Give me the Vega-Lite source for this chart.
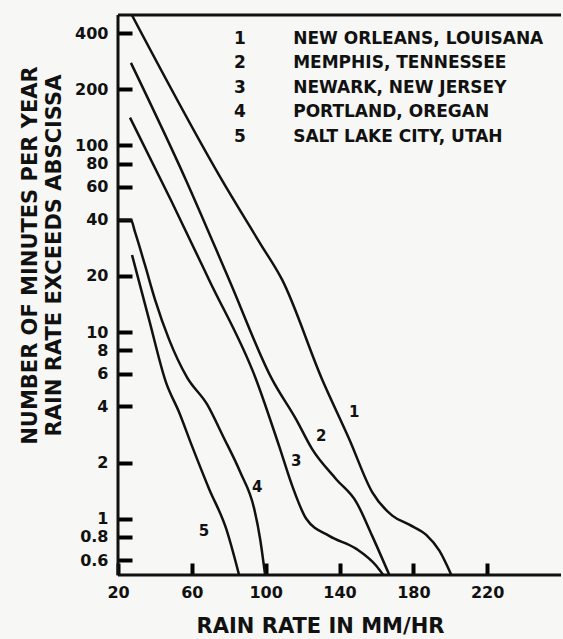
{
  "$schema": "https://vega.github.io/schema/vega-lite/v6.json",
  "width": 443,
  "height": 560,
  "autosize": "none",
  "padding": {"left": 118, "top": 15, "right": 2, "bottom": 64},
  "background": "#f7f7f5",
  "config": {"view": {"stroke": null}, "font": "DejaVu Sans"},
  "datasets": {
    "curves": [
      {"id": "1", "rate": 27.5, "minutes": 500},
      {"id": "1", "rate": 76.4, "minutes": 65},
      {"id": "1", "rate": 96.9, "minutes": 30},
      {"id": "1", "rate": 108.9, "minutes": 19.1},
      {"id": "1", "rate": 130.6, "minutes": 5.58},
      {"id": "1", "rate": 145.3, "minutes": 2.67},
      {"id": "1", "rate": 157.7, "minutes": 1.39},
      {"id": "1", "rate": 168.6, "minutes": 1.04},
      {"id": "1", "rate": 177.8, "minutes": 0.93},
      {"id": "1", "rate": 187.0, "minutes": 0.82},
      {"id": "1", "rate": 194.1, "minutes": 0.675},
      {"id": "1", "rate": 200.6, "minutes": 0.5},
      {"id": "2", "rate": 27.0, "minutes": 277},
      {"id": "2", "rate": 56.9, "minutes": 65},
      {"id": "2", "rate": 80.2, "minutes": 19.1},
      {"id": "2", "rate": 103.5, "minutes": 5.58},
      {"id": "2", "rate": 116.5, "minutes": 3.41},
      {"id": "2", "rate": 125.2, "minutes": 2.36},
      {"id": "2", "rate": 138.2, "minutes": 1.63},
      {"id": "2", "rate": 149.1, "minutes": 1.23},
      {"id": "2", "rate": 157.7, "minutes": 0.81},
      {"id": "2", "rate": 167.0, "minutes": 0.5},
      {"id": "3", "rate": 26.5, "minutes": 141},
      {"id": "3", "rate": 48.7, "minutes": 50.9},
      {"id": "3", "rate": 69.3, "minutes": 19.1},
      {"id": "3", "rate": 94.8, "minutes": 5.58},
      {"id": "3", "rate": 107.3, "minutes": 2.45},
      {"id": "3", "rate": 114.4, "minutes": 1.5},
      {"id": "3", "rate": 122.0, "minutes": 1.0},
      {"id": "3", "rate": 134.4, "minutes": 0.81},
      {"id": "3", "rate": 149.1, "minutes": 0.69},
      {"id": "3", "rate": 159.9, "minutes": 0.56},
      {"id": "3", "rate": 163.7, "minutes": 0.5},
      {"id": "4", "rate": 20, "minutes": 40},
      {"id": "4", "rate": 27.0, "minutes": 40},
      {"id": "4", "rate": 29.2, "minutes": 34.4},
      {"id": "4", "rate": 34.6, "minutes": 22.9},
      {"id": "4", "rate": 40.1, "minutes": 14.9},
      {"id": "4", "rate": 47.7, "minutes": 9.12},
      {"id": "4", "rate": 57.4, "minutes": 5.72},
      {"id": "4", "rate": 68.3, "minutes": 4.1},
      {"id": "4", "rate": 76.9, "minutes": 2.77},
      {"id": "4", "rate": 86.2, "minutes": 1.78},
      {"id": "4", "rate": 93.8, "minutes": 1.13},
      {"id": "4", "rate": 97.0, "minutes": 0.78},
      {"id": "4", "rate": 99.7, "minutes": 0.5},
      {"id": "5", "rate": 27.6, "minutes": 25.9},
      {"id": "5", "rate": 36.8, "minutes": 11.7},
      {"id": "5", "rate": 46.0, "minutes": 5.38},
      {"id": "5", "rate": 53.1, "minutes": 3.72},
      {"id": "5", "rate": 60.1, "minutes": 2.45},
      {"id": "5", "rate": 69.3, "minutes": 1.45},
      {"id": "5", "rate": 78.6, "minutes": 0.885},
      {"id": "5", "rate": 85.6, "minutes": 0.5}
    ],
    "labels": [
      {"id": "1", "rate": 148.0, "minutes": 3.72},
      {"id": "2", "rate": 130.1, "minutes": 2.77},
      {"id": "3", "rate": 116.5, "minutes": 2.04},
      {"id": "4", "rate": 95.4, "minutes": 1.48},
      {"id": "5", "rate": 66.6, "minutes": 0.863}
    ]
  },
  "layer": [
    {
      "data": {"name": "curves"},
      "mark": {"type": "line", "strokeWidth": 2.5, "interpolate": "monotone", "clip": true},
      "encoding": {
        "x": {
          "field": "rate",
          "type": "quantitative",
          "scale": {"domain": [20, 260], "nice": false, "zero": false},
          "axis": {
            "values": [20, 60, 100, 140, 180, 220],
            "grid": false,
            "domain": false,
            "offset": -12,
            "ticks": true,
            "tickSize": 12,
            "tickWidth": 4,
            "tickColor": "black",
            "labelPadding": 9,
            "labelFont": "DejaVu Sans",
            "labelFontSize": 16,
            "labelFontWeight": "bold",
            "labelColor": "#111",
            "labelFlush": false,
            "labelOverlap": false,
            "title": "RAIN RATE IN MM/HR",
            "titleFont": "DejaVu Sans",
            "titleFontSize": 21,
            "titleFontWeight": "bold",
            "titleColor": "#111",
            "titleX": 202,
            "titleY": 63,
            "titleAlign": "center",
            "titleBaseline": "middle"
          }
        },
        "y": {
          "field": "minutes",
          "type": "quantitative",
          "scale": {"type": "log", "domain": [0.5, 500], "nice": false},
          "axis": {
            "values": [0.6, 0.8, 1, 2, 4, 6, 8, 10, 20, 40, 60, 80, 100, 200, 400],
            "format": "~g",
            "grid": false,
            "domain": false,
            "offset": -14,
            "ticks": true,
            "tickSize": 14,
            "tickWidth": 4,
            "tickColor": "black",
            "labelPadding": 10,
            "labelFont": "DejaVu Sans",
            "labelFontSize": 16,
            "labelFontWeight": "bold",
            "labelColor": "#111",
            "labelOverlap": false,
            "labelFlush": false,
            "title": ["NUMBER OF MINUTES PER YEAR", "RAIN RATE EXCEEDS ABSCISSA"],
            "titleFont": "DejaVu Sans",
            "titleFontSize": 21,
            "titleFontWeight": "bold",
            "titleColor": "#111",
            "titleAngle": 270,
            "titleX": -102,
            "titleY": 240,
            "titleAlign": "center",
            "titleBaseline": "middle",
            "titleLineHeight": 24
          }
        },
        "stroke": {
          "field": "id",
          "type": "nominal",
          "scale": {"range": ["#111", "#111", "#111", "#111", "#111"]},
          "legend": {
            "orient": "none",
            "legendX": 99,
            "legendY": 15,
            "title": null,
            "symbolOpacity": 0,
            "symbolSize": 0,
            "symbolStrokeWidth": 0,
            "labelOffset": 0,
            "labelFont": "DejaVu Sans",
            "labelFontSize": 17,
            "labelFontWeight": "bold",
            "labelColor": "#111",
            "labelLimit": 0,
            "rowPadding": 6.5,
            "labelExpr": "datum.label == '1' ? '1\u00a0\u00a0\u00a0\u00a0\u00a0\u00a0\u00a0\u00a0NEW ORLEANS, LOUISANA' : datum.label == '2' ? '2\u00a0\u00a0\u00a0\u00a0\u00a0\u00a0\u00a0\u00a0MEMPHIS, TENNESSEE' : datum.label == '3' ? '3\u00a0\u00a0\u00a0\u00a0\u00a0\u00a0\u00a0\u00a0NEWARK, NEW JERSEY' : datum.label == '4' ? '4\u00a0\u00a0\u00a0\u00a0\u00a0\u00a0\u00a0\u00a0PORTLAND, OREGAN' : '5\u00a0\u00a0\u00a0\u00a0\u00a0\u00a0\u00a0\u00a0SALT LAKE CITY, UTAH'"
          }
        }
      }
    },
    {
      "data": {"values": [{}]},
      "mark": {"type": "rule", "color": "#111", "strokeWidth": 3},
      "encoding": {"y": {"datum": 500}}
    },
    {
      "data": {"values": [{}]},
      "mark": {"type": "rule", "color": "#111", "strokeWidth": 3},
      "encoding": {"y": {"datum": 0.5}}
    },
    {
      "data": {"values": [{}]},
      "mark": {"type": "rule", "color": "#111", "strokeWidth": 3},
      "encoding": {"x": {"datum": 20}}
    },
    {
      "data": {"name": "labels"},
      "mark": {"type": "text", "font": "DejaVu Sans", "fontSize": 15, "fontWeight": "bold", "color": "#111"},
      "encoding": {
        "x": {"field": "rate", "type": "quantitative"},
        "y": {"field": "minutes", "type": "quantitative"},
        "text": {"field": "id"}
      }
    }
  ]
}
